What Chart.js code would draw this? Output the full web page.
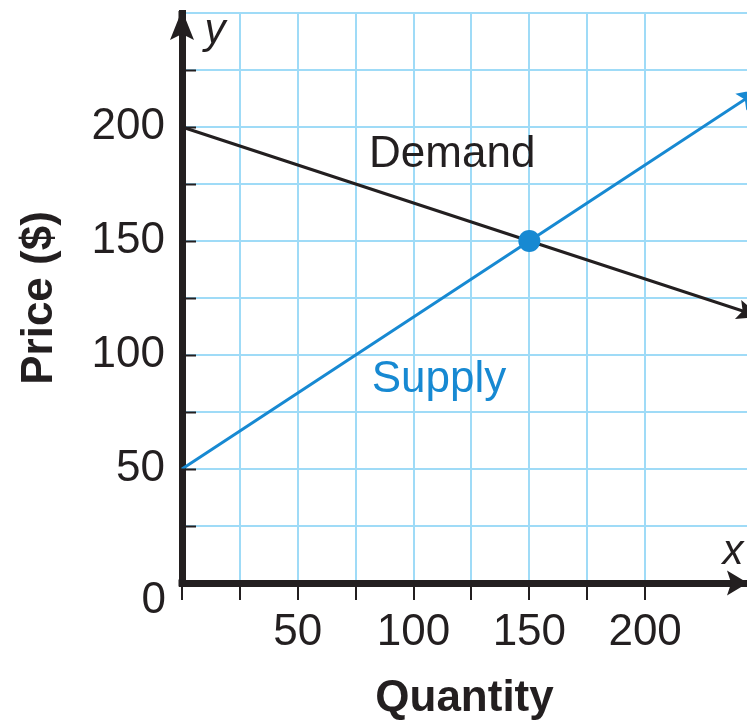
<!DOCTYPE html>
<html>
<head>
<meta charset="utf-8">
<script src="https://cdn.jsdelivr.net/npm/chart.js@4.4.0/dist/chart.umd.min.js"></script>
<style>
html, body { margin: 0; padding: 0; background: #fff; }
</style>
</head>
<body>
<canvas id="marketChart" width="747" height="721"></canvas>
<script>
// values
const quantity = [0, 150, 250];
const demandPrice = [200, 150, 116.7];
const supplyPrice = [50, 150, 216.7];
const equilibrium = [{ x: 150, y: 150 }];
const xTickLabels = [50, 100, 150, 200];
const yTickLabels = [50, 100, 150, 200];

const ink = '#231f20';
const blue = '#1789d2';
const gridBlue = '#9fdbf7';
const family = '"Liberation Sans", Arial, sans-serif';

const toPoints = (xs, ys) => xs.map((x, i) => ({ x: x, y: ys[i] }));

function arrowHead(ctx, x1, y1, x2, y2, len, half, color) {
    const a = Math.atan2(y2 - y1, x2 - x1);
    ctx.save();
    ctx.translate(x2, y2);
    ctx.rotate(a);
    ctx.fillStyle = color;
    ctx.beginPath();
    ctx.moveTo(0, 0);
    ctx.lineTo(-len, -half);
    ctx.lineTo(-len * 0.8, 0);
    ctx.lineTo(-len, half);
    ctx.closePath();
    ctx.fill();
    ctx.restore();
}

const decorations = {
    id: 'decorations',
    afterDraw(chart) {
        const { ctx, chartArea, scales } = chart;
        const { left, right, top, bottom } = chartArea;
        const xs = scales.x, ys = scales.y;

        ctx.save();
        // axis corner + y axis running into its arrow
        ctx.fillStyle = ink;
        ctx.fillRect(left - 3.5, bottom - 3.5, 7, 7);
        ctx.fillRect(left - 3.5, top - 2, 7, 10);
        arrowHead(ctx, left, bottom, left, top - 3, 30, 12, ink);
        arrowHead(ctx, left, bottom, right + 1, bottom, 21, 12.5, ink);

        // y tick marks inside the plot
        ctx.strokeStyle = ink;
        ctx.lineWidth = 2;
        ys.ticks.forEach(t => {
            if (t.value <= 0 || t.value >= 250) return;
            const py = Math.round(ys.getPixelForValue(t.value)) + 0.5;
            ctx.beginPath();
            ctx.moveTo(left, py);
            ctx.lineTo(left + 14, py);
            ctx.stroke();
        });

        // arrow tips on the demand and supply lines
        [0, 1].forEach(i => {
            const pts = chart.getDatasetMeta(i + 1).data;
            const a = pts[pts.length - 2], b = pts[pts.length - 1];
            arrowHead(ctx, a.x, a.y, b.x, b.y, 24, 10, i === 0 ? ink : blue);
        });

        ctx.textBaseline = 'middle';
        ctx.font = '44px ' + family;
        ctx.fillStyle = ink;
        ctx.textAlign = 'right';
        ctx.fillText('0', left - 16, bottom + 18);

        ctx.textAlign = 'center';
        ctx.fillText('Demand', xs.getPixelForValue(116.7), ys.getPixelForValue(187.7));
        ctx.fillStyle = blue;
        ctx.fillText('Supply', xs.getPixelForValue(111), ys.getPixelForValue(89));

        ctx.fillStyle = ink;
        ctx.font = 'italic 42px ' + family;
        ctx.fillText('y', left + 33, top + 18);
        ctx.fillText('x', right - 14, bottom - 31);
        ctx.restore();
    }
};

new Chart(document.getElementById('marketChart'), {
    type: 'scatter',
    data: {
        datasets: [{
            label: 'Equilibrium',
            data: equilibrium,
            pointRadius: 11,
            pointBackgroundColor: blue,
            pointBorderWidth: 0
        }, {
            label: 'Demand',
            data: toPoints(quantity, demandPrice),
            showLine: true,
            borderColor: ink,
            borderWidth: 3,
            pointRadius: 0,
            clip: false
        }, {
            label: 'Supply',
            data: toPoints(quantity, supplyPrice),
            showLine: true,
            borderColor: blue,
            borderWidth: 3,
            pointRadius: 0,
            clip: false
        }]
    },
    options: {
        responsive: false,
        animation: false,
        layout: { autoPadding: false, padding: { top: 13, right: 0, bottom: 0, left: 0 } },
        plugins: {
            legend: { display: false },
            tooltip: { enabled: false }
        },
        scales: {
            x: {
                type: 'linear',
                min: 0,
                max: 244,
                afterBuildTicks: (s) => { s.ticks = s.ticks.filter(t => t.value % 25 === 0); },
                afterFit: (s) => {
                    s.height = 138;
                    s.paddingLeft = 0;
                    s.paddingRight = 0;
                },
                ticks: {
                    stepSize: 25,
                    autoSkip: false,
                    maxRotation: 0,
                    padding: 6,
                    color: ink,
                    font: { family: family, size: 44 },
                    callback: (v) => xTickLabels.includes(v) ? String(v) : ''
                },
                grid: { color: gridBlue, lineWidth: 2, tickColor: ink, tickWidth: 2, tickLength: 17 },
                border: { color: ink, width: 7 },
                title: {
                    display: true,
                    text: 'Quantity',
                    color: ink,
                    font: { family: family, size: 44, weight: 'bold' },
                    padding: { top: 0, bottom: -4 }
                }
            },
            y: {
                min: 0,
                max: 250,
                afterFit: (s) => {
                    s.width = 182;
                    s.paddingTop = 0;
                    s.paddingBottom = 0;
                },
                ticks: {
                    stepSize: 25,
                    autoSkip: false,
                    padding: 17,
                    color: ink,
                    font: { family: family, size: 44 },
                    callback: (v) => yTickLabels.includes(v) ? String(v) : ''
                },
                grid: { color: gridBlue, lineWidth: 2, drawTicks: false },
                border: { color: ink, width: 7 },
                title: {
                    display: true,
                    text: 'Price ($)',
                    color: ink,
                    font: { family: family, size: 44, weight: 'bold' },
                    padding: { top: 13, bottom: 0 }
                }
            }
        }
    },
    plugins: [decorations]
});
</script>
</body>
</html>
